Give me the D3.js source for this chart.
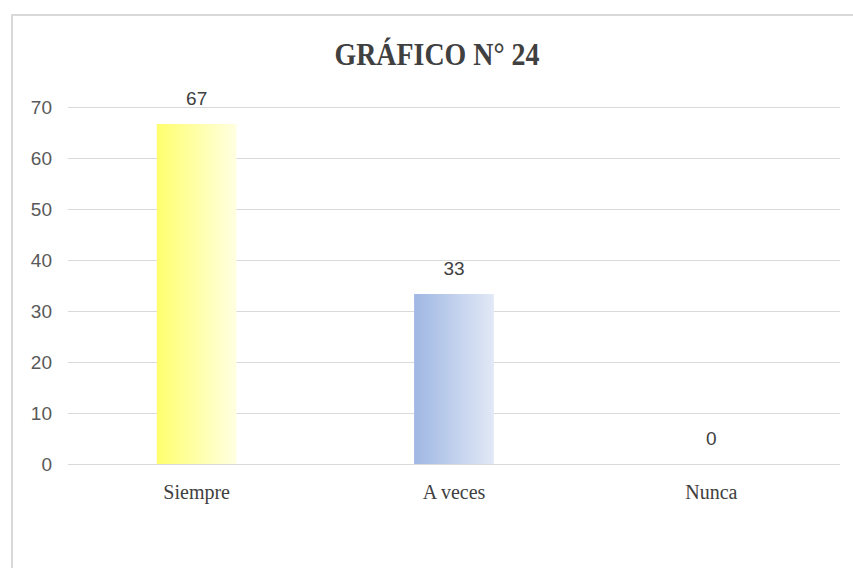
<!DOCTYPE html>
<html>
<head>
<meta charset="utf-8">
<script src="https://cdn.jsdelivr.net/npm/d3@7"></script>
<style>
  body { margin: 0; background: #fff; }
  svg { display: block; }
</style>
</head>
<body>
<div id="chart"></div>
<script>
const WIDTH = 853;
const HEIGHT = 568;

// chart data
var categories = ["Siempre", "A veces", "Nunca"];
var values = [66.67, 33.33, 0];
var yTicks = [0, 10, 20, 30, 40, 50, 60, 70];
var gradients = [["#ffff6e", "#ffffe2"], ["#9fb7e3", "#e2e9f6"], ["#ffffff", "#ffffff"]];

var margin = { top: 107, right: 13, bottom: 104, left: 68 };

var svg = d3.select("#chart").append("svg")
    .attr("width", WIDTH)
    .attr("height", HEIGHT);

// outer frame (only top and left visible in the crop)
svg.append("path")
    .attr("d", "M12,568 V15 H853")
    .attr("fill", "none")
    .attr("stroke", "#d9d9d9")
    .attr("stroke-width", 2);

var x = d3.scaleBand()
    .domain(categories)
    .range([margin.left, WIDTH - margin.right])
    .paddingInner(0.69)
    .paddingOuter(0.345);

var y = d3.scaleLinear()
    .domain([0, 70])
    .range([HEIGHT - margin.bottom, margin.top]);

var defs = svg.append("defs");
gradients.forEach((g, i) => {
  var lg = defs.append("linearGradient")
      .attr("id", "grad" + i)
      .attr("x1", "0%").attr("x2", "100%")
      .attr("y1", "0%").attr("y2", "0%");
  lg.append("stop").attr("offset", "0%").attr("stop-color", g[0]);
  lg.append("stop").attr("offset", "100%").attr("stop-color", g[1]);
});

// gridlines + y labels
var yAxis = svg.append("g")
    .attr("transform", "translate(" + margin.left + ",0)")
    .call(d3.axisLeft(y)
        .tickValues(yTicks)
        .tickSize(-(WIDTH - margin.left - margin.right))
        .tickPadding(16));
yAxis.select(".domain").remove();
yAxis.selectAll(".tick line").attr("stroke", "#d9d9d9").attr("stroke-width", 1);
yAxis.selectAll(".tick text")
    .attr("fill", "#595959")
    .attr("dy", "0.36em")
    .style("font-family", "'Liberation Sans', Arial, sans-serif")
    .style("font-size", "19px");

// bars
svg.selectAll(".bar")
    .data(values)
    .enter().append("rect")
    .attr("class", "bar")
    .attr("x", (d, i) => x(categories[i]))
    .attr("y", d => y(d))
    .attr("width", x.bandwidth())
    .attr("height", d => y(0) - y(d))
    .attr("fill", (d, i) => "url(#grad" + i + ")");

// value labels
svg.selectAll(".val")
    .data(values)
    .enter().append("text")
    .attr("class", "val")
    .attr("x", (d, i) => x(categories[i]) + x.bandwidth() / 2)
    .attr("y", d => y(d) - 19)
    .attr("text-anchor", "middle")
    .attr("fill", "#404040")
    .style("font-family", "'Liberation Sans', Arial, sans-serif")
    .style("font-size", "19px")
    .text(d => Math.round(d));

// category labels
var xAxis = svg.append("g")
    .attr("transform", "translate(0," + y(0) + ")")
    .call(d3.axisBottom(x).tickSize(0).tickPadding(0));
xAxis.select(".domain").remove();
xAxis.selectAll(".tick text")
    .attr("dy", 35)
    .attr("fill", "#404040")
    .style("font-family", "'Liberation Serif', 'Times New Roman', serif")
    .style("font-size", "20px");

// title
svg.append("text")
    .attr("x", 437)
    .attr("y", 65)
    .attr("text-anchor", "middle")
    .attr("fill", "#404040")
    .attr("textLength", 205)
    .attr("lengthAdjust", "spacingAndGlyphs")
    .style("font-family", "'Liberation Serif', 'Times New Roman', serif")
    .style("font-weight", "bold")
    .style("font-size", "31px")
    .text("GRÁFICO N° 24");
</script>
</body>
</html>
